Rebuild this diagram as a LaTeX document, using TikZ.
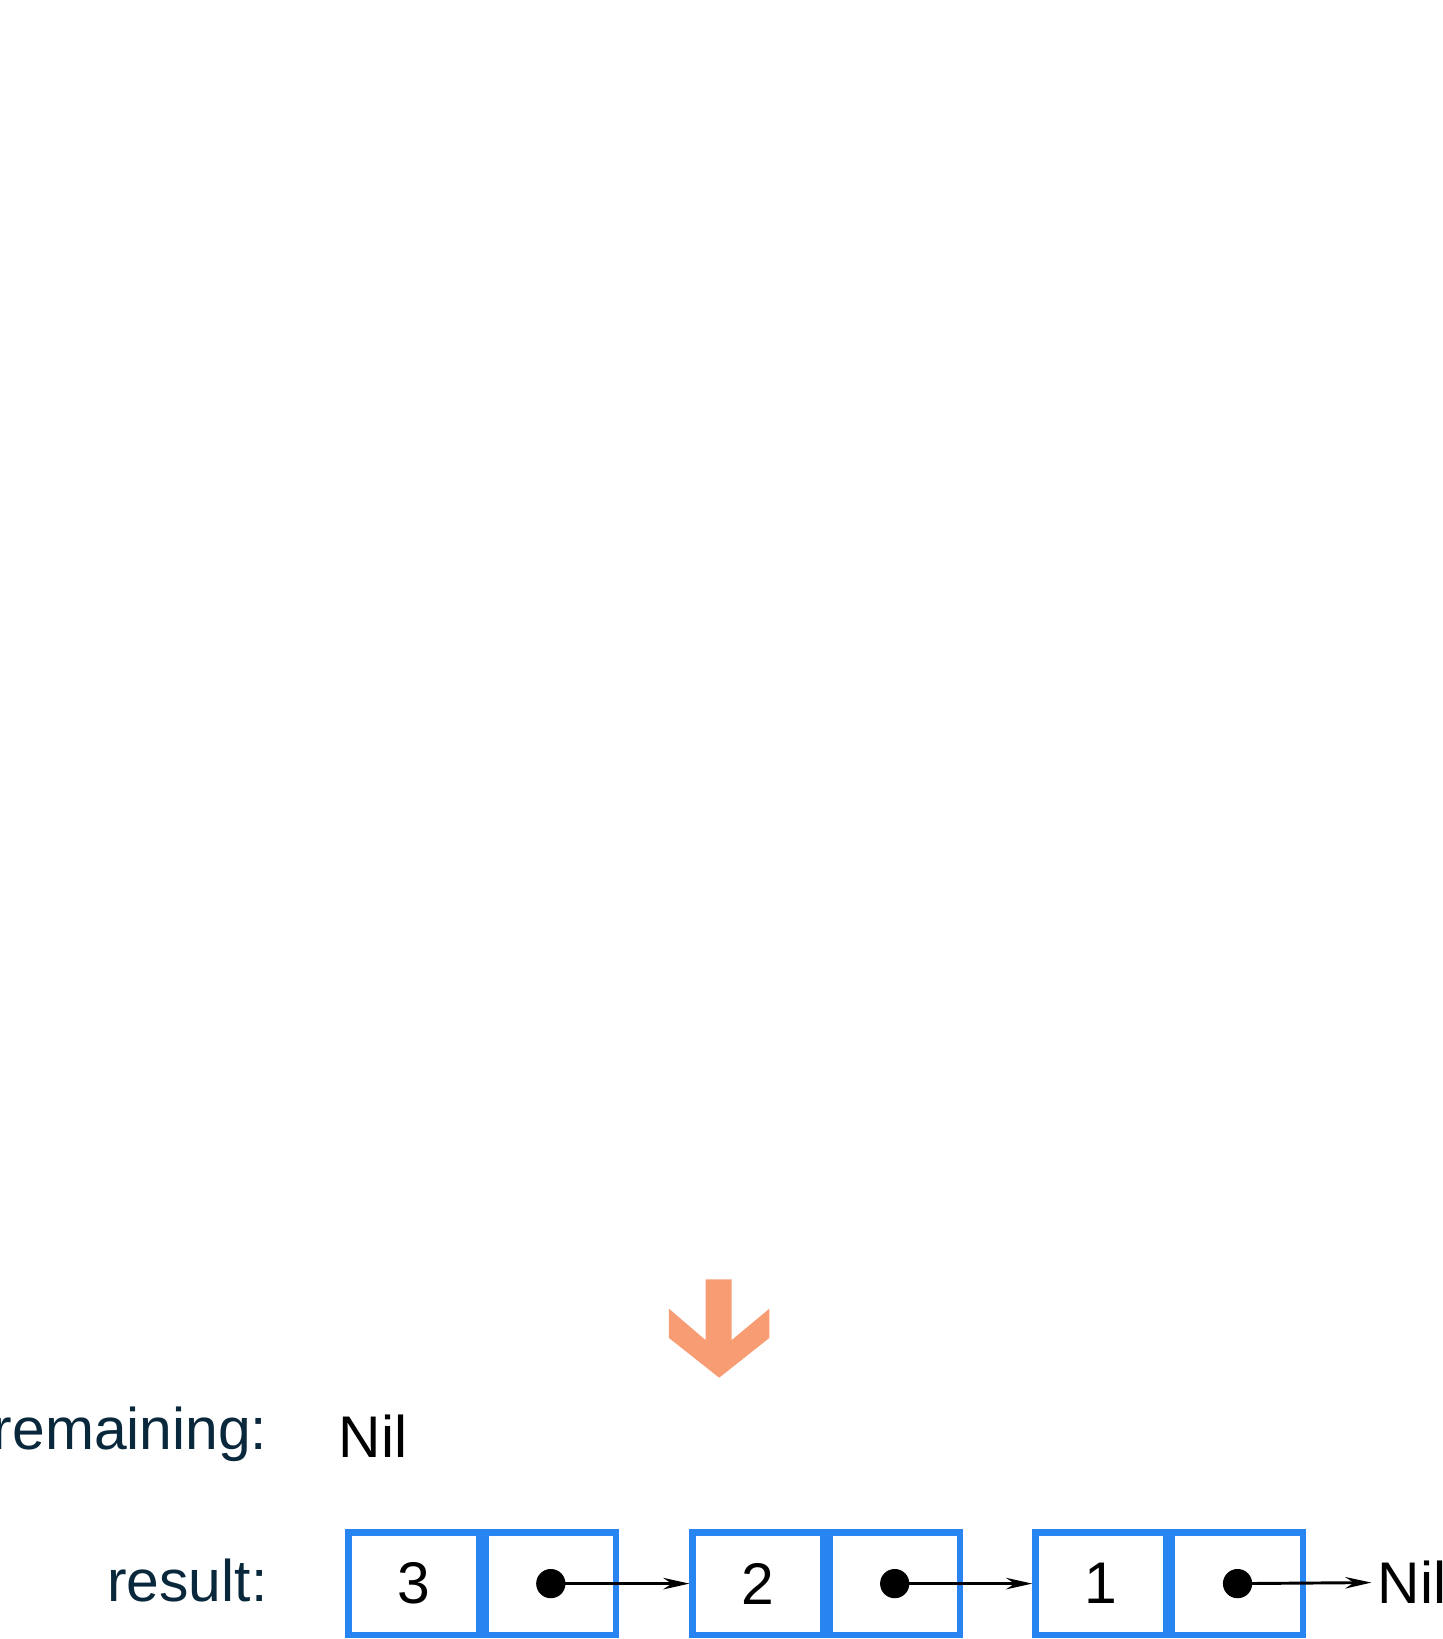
\documentclass[tikz,border=0pt]{standalone}
\usepackage{fontspec}
\setmainfont{Liberation Sans}
\usetikzlibrary{arrows.meta, positioning}
\definecolor{cellblue}{RGB}{40,132,240}
\definecolor{stepor}{RGB}{248,156,116}
\definecolor{lbl}{RGB}{10,40,60}
\tikzset{
  cell/.style={rectangle, draw=cellblue, line width=3.4pt, minimum width=2.5cm, minimum height=1.96cm, inner sep=0pt, font=\fontsize{32}{38}\selectfont},
  label/.style={anchor=east, text=lbl, font=\fontsize{32}{38}\selectfont},
  plain/.style={font=\fontsize{32}{38}\selectfont},
  ptr/.style={line width=1.6pt, -{Stealth[length=0.5cm, width=0.22cm]}},
}
\begin{document}
\begin{tikzpicture}[x=0.02cm, y=-0.02cm]
\useasboundingbox (0,0) rectangle (1380,1568);
% step arrow
\fill[stepor] (675,1224) -- (700,1224) -- (700,1282) -- (736,1252) -- (736,1280)
  -- (688,1318) -- (640,1280) -- (640,1252) -- (675,1282) -- cycle;
% labels
\node (rem) [label] at (262,1372) {remaining:};
\node (remnil) [plain, anchor=west] at (318,1374) {Nil};
\node (res) [label] at (262,1512) {result:};
% list cells
\foreach \i/\x/\v in {1/396/3, 2/725/2, 3/1053/1} {
  \node (v\i) [cell] at (\x,1515) {\v};
  \node (p\i) [cell, right=0pt of v\i] {};
  \fill (p\i.center) circle (0.28cm);
}
\node (nil) [plain, anchor=west] at (1312,1514) {Nil};
\draw [ptr] (p1.center) -- (v2.west);
\draw [ptr] (p2.center) -- (v3.west);
\draw [ptr] (p3.center) -- (nil.west);
\end{tikzpicture}
\end{document}
